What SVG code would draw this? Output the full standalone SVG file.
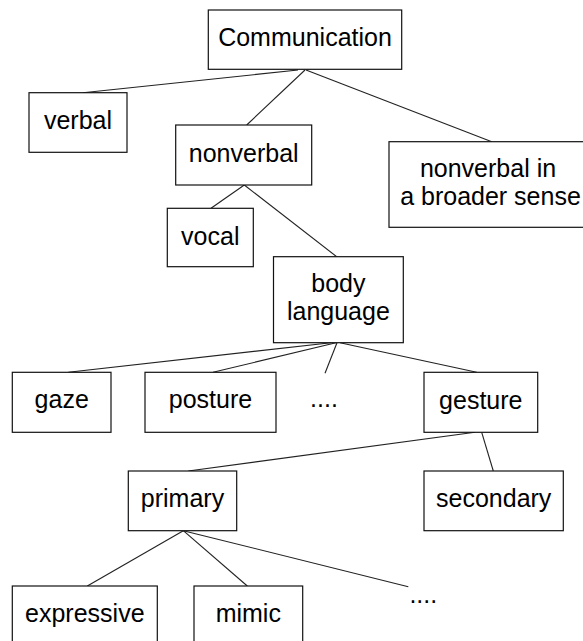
<svg xmlns="http://www.w3.org/2000/svg" width="583" height="641" viewBox="0 0 583 641">
<style>
.box{fill:#fff;stroke:#111;stroke-width:1.2}
.lbl{font-family:"Liberation Sans",Arial,sans-serif;font-size:25px;fill:#000;text-anchor:middle}
.edge{stroke:#222;stroke-width:1.1;fill:none}
</style>
<rect width="583" height="641" fill="#fff"/>
<g id="connectors">
<line class="edge" x1="298" y1="70" x2="82.8" y2="92.7"/>
<line class="edge" x1="305" y1="70" x2="246.7" y2="125"/>
<line class="edge" x1="306" y1="70" x2="491.8" y2="141.7"/>
<line class="edge" x1="244.3" y1="185" x2="211" y2="208.3"/>
<line class="edge" x1="244.3" y1="185" x2="336.7" y2="256.7"/>
<line class="edge" x1="331" y1="342.7" x2="68.3" y2="372.3"/>
<line class="edge" x1="336" y1="342.7" x2="213" y2="372.3"/>
<line class="edge" x1="337" y1="342.7" x2="325" y2="373.3"/>
<line class="edge" x1="340" y1="342.7" x2="476.7" y2="372.3"/>
<line class="edge" x1="475" y1="432.3" x2="188.3" y2="471"/>
<line class="edge" x1="481.7" y1="432.3" x2="493.3" y2="471"/>
<line class="edge" x1="183.3" y1="530.7" x2="87.3" y2="586"/>
<line class="edge" x1="183.3" y1="530.7" x2="247.3" y2="586"/>
<line class="edge" x1="183.3" y1="530.7" x2="408.3" y2="586.7"/>
</g>
<g id="communication"><rect class="box" x="208.3" y="10" width="193.4" height="59.3"/><text class="lbl" x="305" y="45.7">Communication</text></g>
<g id="verbal"><rect class="box" x="29" y="92.7" width="98" height="59.6"/><text class="lbl" x="78" y="129.3">verbal</text></g>
<g id="nonverbal"><rect class="box" x="175.7" y="125" width="136" height="60"/><text class="lbl" x="243.7" y="162.3">nonverbal</text></g>
<g id="broader"><rect class="box" x="389" y="141.7" width="200" height="85.6"/><text class="lbl" x="488" y="177.3">nonverbal in</text><text class="lbl" x="490.5" y="205">a broader sense</text></g>
<g id="vocal"><rect class="box" x="167.3" y="208.3" width="86" height="58.4"/><text class="lbl" x="210.3" y="245">vocal</text></g>
<g id="body-language"><rect class="box" x="273.5" y="256.7" width="129.8" height="86"/><text class="lbl" x="338.4" y="291.7">body</text><text class="lbl" x="338.4" y="320">language</text></g>
<g id="gaze"><rect class="box" x="12.3" y="372.3" width="98.7" height="60"/><text class="lbl" x="61.7" y="408.3">gaze</text></g>
<g id="posture"><rect class="box" x="145" y="372.3" width="131" height="60"/><text class="lbl" x="210.5" y="408.3">posture</text></g>
<g id="dots1"><text class="lbl" x="324" y="406.7">....</text></g>
<g id="gesture"><rect class="box" x="424" y="372.3" width="113.7" height="60"/><text class="lbl" x="480.8" y="408.8">gesture</text></g>
<g id="primary"><rect class="box" x="128.3" y="471" width="108.4" height="59.7"/><text class="lbl" x="182.5" y="506.7">primary</text></g>
<g id="secondary"><rect class="box" x="424" y="471" width="139.3" height="59.7"/><text class="lbl" x="493.7" y="506.7">secondary</text></g>
<g id="expressive"><rect class="box" x="12.3" y="586" width="145" height="70"/><text class="lbl" x="84.8" y="621.7">expressive</text></g>
<g id="mimic"><rect class="box" x="194" y="586" width="108.7" height="70"/><text class="lbl" x="248.3" y="621.7">mimic</text></g>
<g id="dots2"><text class="lbl" x="423.3" y="603.3">....</text></g>
</svg>
